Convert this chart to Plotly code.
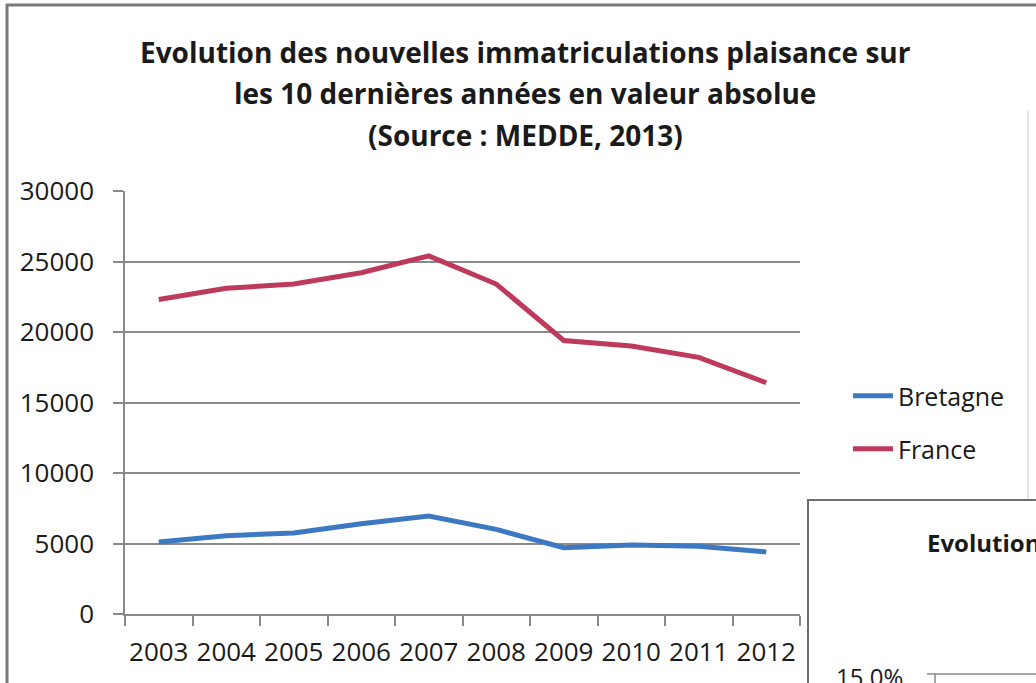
import plotly.graph_objects as go

years = ["2003", "2004", "2005", "2006", "2007", "2008", "2009", "2010", "2011", "2012"]
bretagne = [5100, 5550, 5750, 6400, 6950, 6000, 4700, 4900, 4800, 4400]
france = [22300, 23100, 23400, 24200, 25400, 23400, 19400, 19000, 18200, 16400]
series_names = ["Bretagne", "France"]
colors = ["#3d78c2", "#be3a5c"]
title_lines = ["Evolution des nouvelles immatriculations plaisance sur",
               "les 10 dernières années en valeur absolue",
               "(Source : MEDDE, 2013)"]

W, H = 1036, 683
def px(x):
    return x / W
def py(y):
    return 1 - y / H

FONT = "Open Sans"
TXT = "#1a1a1a"

fig = go.Figure()
fig.add_trace(go.Scatter(x=years, y=bretagne, mode="lines", name=series_names[0],
                         line=dict(color=colors[0], width=5), legend="legend", showlegend=True))
fig.add_trace(go.Scatter(x=years, y=france, mode="lines", name=series_names[1],
                         line=dict(color=colors[1], width=5), legend="legend2", showlegend=True))

annotations = []
for i, (t, yc) in enumerate(zip(title_lines, [52, 93, 135])):
    annotations.append(dict(text="<b>%s</b>" % t, x=px(525), y=py(yc), xref="paper", yref="paper",
                            xanchor="center", yanchor="middle", showarrow=False,
                            font=dict(family=FONT, size=28, color=TXT)))
annotations.append(dict(text="<b>Evolution</b>", x=px(925), y=py(542), xref="paper", yref="paper",
                        xanchor="left", yanchor="middle", showarrow=False,
                        font=dict(family=FONT, size=24, color=TXT)))
annotations.append(dict(text="15.0%", x=px(834), y=py(676), xref="paper", yref="paper",
                        xanchor="left", yanchor="middle", showarrow=False,
                        font=dict(family=FONT, size=24, color=TXT)))

shapes = [
    # outer chart border (left and top)
    dict(type="line", xref="paper", yref="paper", x0=px(7), x1=px(7), y0=py(4), y1=py(690),
         line=dict(color="#7a7a7a", width=3)),
    dict(type="line", xref="paper", yref="paper", x0=px(6), x1=px(1040), y0=py(5), y1=py(5),
         line=dict(color="#7a7a7a", width=3)),
    dict(type="line", xref="paper", yref="paper", x0=px(1028), x1=px(1028), y0=py(110), y1=py(500),
         line=dict(color="#e8e8e8", width=2)),
    # second chart box (partially visible)
    dict(type="rect", xref="paper", yref="paper", x0=px(808), x1=px(1045), y0=py(500), y1=py(700),
         line=dict(color="#6e6e6e", width=2), fillcolor="white"),
    dict(type="line", xref="paper", yref="paper", x0=px(927), x1=px(1040), y0=py(674), y1=py(674),
         line=dict(color="#888888", width=1.5)),
    dict(type="line", xref="paper", yref="paper", x0=px(935), x1=px(935), y0=py(674), y1=py(690),
         line=dict(color="#888888", width=1.5)),
]

leg = dict(xanchor="left", yanchor="middle", font=dict(family=FONT, size=25, color=TXT),
           bgcolor="rgba(0,0,0,0)", itemwidth=40)

fig.update_layout(
    template="none",
    width=W, height=H,
    margin=dict(l=0, r=0, t=0, b=0, pad=0, autoexpand=False),
    paper_bgcolor="white", plot_bgcolor="white",
    font=dict(family=FONT, size=26, color=TXT),
    annotations=annotations,
    shapes=shapes,
    showlegend=True,
    legend=dict(x=px(848), y=py(396), **leg),
    legend2=dict(x=px(848), y=py(449), **leg),
    xaxis=dict(domain=[px(125), px(800)], type="category", range=[-0.5, len(years) - 0.5],
               tickson="boundaries", tickangle=0,
               ticks="outside", ticklen=10, tickcolor="#888888", tickwidth=1.5,
               showline=True, linecolor="#888888", linewidth=1.5, showgrid=False,
               tickfont=dict(family=FONT, size=26, color=TXT), ticklabelstandoff=14,
               automargin=False, fixedrange=True),
    yaxis=dict(domain=[py(614), py(191)], range=[0, 30000], dtick=5000, tickformat="d",
               ticks="outside", ticklen=10, tickcolor="#888888", tickwidth=1.5,
               showline=True, linecolor="#888888", linewidth=1.5,
               showgrid=True, gridcolor="#8a8a8a", gridwidth=1.5, zeroline=False,
               tickfont=dict(family=FONT, size=26, color=TXT), ticklabelstandoff=14,
               automargin=False, fixedrange=True),
)

fig.write_html("out.html", config={"displayModeBar": False},
               post_script="document.body.style.margin='0';document.body.style.overflow='hidden';")
